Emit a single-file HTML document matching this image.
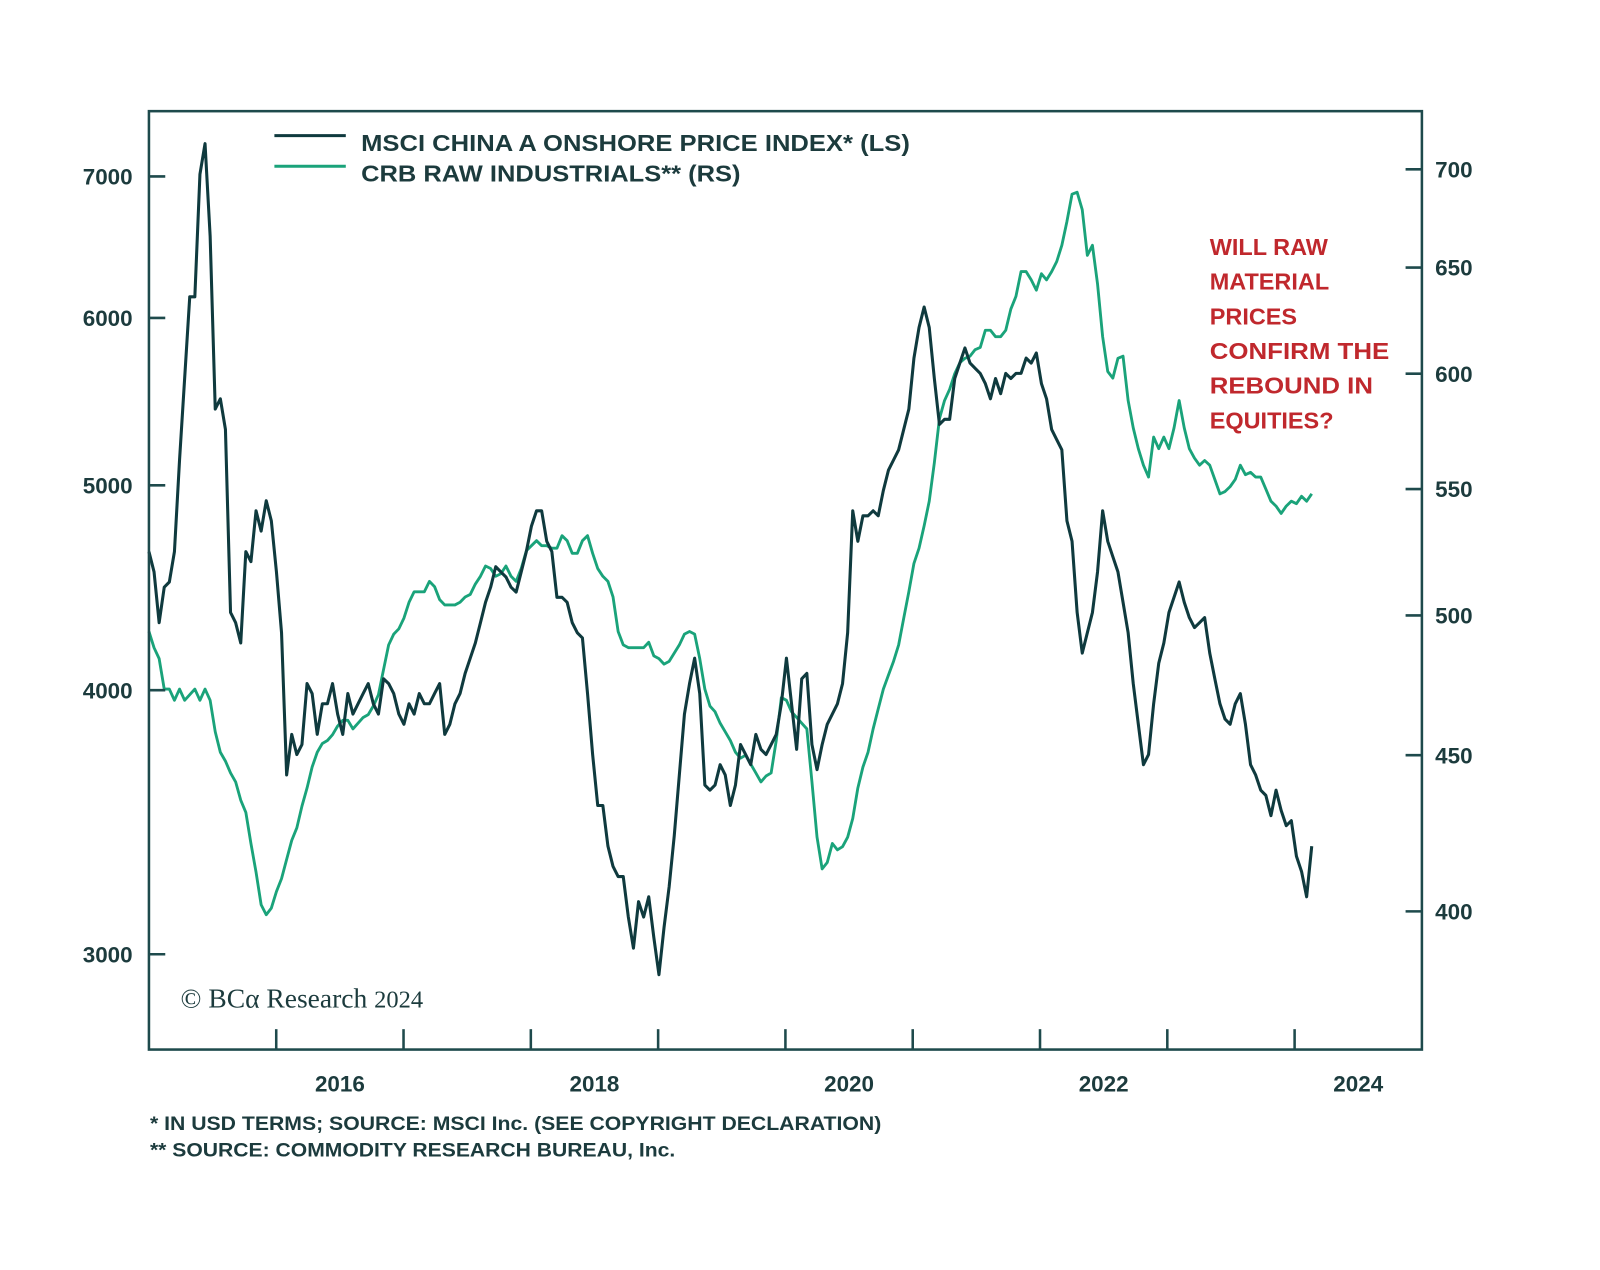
<!DOCTYPE html>
<html><head><meta charset="utf-8"><style>
html,body{margin:0;padding:0;background:#fff;}
svg{display:block;font-family:"Liberation Sans",sans-serif;}
</style></head><body>
<svg id="chart" width="1600" height="1270" viewBox="0 0 1600 1270">
<rect x="0" y="0" width="1600" height="1270" fill="#fff"/>
<g transform="translate(-1,1) scale(1.02)">
<g id="marks"></g>
<rect x="147" y="108" width="1248" height="920" fill="none" stroke="#1e4a4c" stroke-width="2.5"/>
<g id="axes"></g>
<g>
<line x1="270" y1="132" x2="340" y2="132" stroke="#0f3a3e" stroke-width="3"/>
<text x="355" y="147" font-size="23" font-weight="bold" fill="#1c3b3d" textLength="538" lengthAdjust="spacingAndGlyphs">MSCI CHINA A ONSHORE PRICE INDEX* (LS)</text>
<line x1="270" y1="162" x2="340" y2="162" stroke="#1aa37a" stroke-width="3"/>
<text x="355" y="177" font-size="23" font-weight="bold" fill="#1c3b3d" textLength="372" lengthAdjust="spacingAndGlyphs">CRB RAW INDUSTRIALS** (RS)</text>
</g>
<g font-size="23" font-weight="bold" fill="#c0282d">
<text x="1187" y="249">WILL RAW</text>
<text x="1187" y="283">MATERIAL</text>
<text x="1187" y="317">PRICES</text>
<text x="1187" y="351" textLength="176" lengthAdjust="spacingAndGlyphs">CONFIRM THE</text>
<text x="1187" y="385" textLength="160" lengthAdjust="spacingAndGlyphs">REBOUND IN</text>
<text x="1187" y="419">EQUITIES?</text>
</g>
<text x="178" y="987" font-family="'Liberation Serif',serif" font-size="27" fill="#1c3b3d">© BCα Research <tspan font-size="24">2024</tspan></text>
<text x="148" y="1107" font-size="19" font-weight="bold" fill="#1c3b3d" textLength="717" lengthAdjust="spacingAndGlyphs">* IN USD TERMS; SOURCE: MSCI Inc. (SEE COPYRIGHT DECLARATION)</text>
<text x="148" y="1133" font-size="19" font-weight="bold" fill="#1c3b3d" textLength="515" lengthAdjust="spacingAndGlyphs">** SOURCE: COMMODITY RESEARCH BUREAU, Inc.</text>
</g>
</svg>
<script>
const startYear = 2015.0;
const stepYears = 0.0400641;
const yearTicks = [2016,2017,2018,2019,2020,2021,2022,2023,2024];
const yearLabels = [2016,2018,2020,2022,2024];
const leftTicks = [3000,4000,5000,6000,7000];
const rightTicks = [400,450,500,550,600,650,700];
const msci = [4652,4550,4305,4475,4500,4652,5140,5617,6140,6140,7016,7255,6560,5433,5494,5314,4353,4305,4211,4652,4601,4863,4757,4917,4810,4550,4258,3647,3812,3729,3770,4029,3985,3812,3941,3941,4029,3897,3812,3985,3897,3941,3985,4029,3941,3897,4050,4029,3985,3897,3854,3941,3897,3985,3941,3941,3985,4029,3812,3854,3941,3985,4074,4142,4211,4305,4402,4475,4576,4550,4525,4475,4451,4550,4652,4783,4863,4863,4704,4652,4426,4426,4402,4305,4258,4234,3985,3729,3528,3528,3375,3301,3265,3265,3124,3020,3177,3124,3194,3055,2934,3089,3229,3413,3647,3897,4029,4142,3985,3607,3587,3607,3688,3647,3528,3607,3770,3729,3688,3812,3750,3729,3770,3812,3941,4142,3941,3750,4050,4074,3770,3668,3770,3854,3897,3941,4029,4258,4863,4704,4837,4837,4863,4837,4972,5083,5140,5197,5314,5433,5743,5938,6072,5938,5617,5343,5373,5373,5617,5712,5807,5712,5680,5648,5586,5494,5617,5525,5648,5617,5648,5648,5743,5712,5775,5586,5494,5314,5255,5197,4810,4704,4353,4165,4258,4353,4550,4863,4704,4626,4550,4402,4258,4029,3854,3688,3729,3941,4119,4211,4353,4426,4500,4402,4329,4282,4305,4329,4165,4050,3941,3876,3854,3941,3985,3854,3688,3647,3587,3567,3489,3587,3509,3451,3470,3338,3283,3194,3375];
const crb = [494,488,484,473,473,469,473,469,471,473,469,473,469,458,451,448,444,441,435,431,421,412,402,399,401,406,410,416,422,426,433,439,446,451,454,455,457,460,462,462,459,461,463,464,467,471,480,489,493,495,499,505,509,509,509,513,511,506,504,504,504,505,507,508,512,515,519,518,515,516,519,515,513,518,525,527,529,527,527,526,526,531,529,524,524,529,531,524,518,515,513,507,494,489,488,488,488,488,490,485,484,482,483,486,489,493,494,493,484,473,467,465,461,458,455,451,449,450,447,444,441,443,444,455,470,469,465,463,461,459,441,423,413,415,421,419,420,423,429,439,446,451,459,466,473,478,483,489,499,509,520,526,535,545,561,580,588,593,600,605,607,608,611,612,620,620,617,617,620,630,636,648,648,644,639,647,644,648,653,661,673,687,688,679,656,661,642,617,601,598,607,608,588,576,567,560,555,572,567,572,567,576,588,576,567,563,560,562,560,554,548,549,551,554,560,556,557,555,555,550,545,543,540,543,545,544,547,545,548];

const NS = "http://www.w3.org/2000/svg";
const X0 = 147, PXY = 124.8;
function xScale(t){ return X0 + (t - 2015) * PXY; }
function yLeft(v){ return 172 - 900 * Math.log(v / 7000); }
function yRight(v){ return 165 - 1300 * Math.log(v / 700); }
function mk(tag, attrs){ const e = document.createElementNS(NS, tag); for (const k in attrs) e.setAttribute(k, attrs[k]); return e; }

const marks = document.getElementById('marks');
const axes = document.getElementById('axes');

let d1 = crb.map((v,i)=>(i?'L':'M')+xScale(startYear+i*stepYears).toFixed(1)+','+yRight(v).toFixed(1)).join('');
const pc = mk('path',{d:d1,fill:'none',stroke:'#1aa37a','stroke-width':2.8,'stroke-linejoin':'round'});


marks.appendChild(pc);

let d2 = msci.map((v,i)=>(i?'L':'M')+xScale(startYear+i*stepYears).toFixed(1)+','+yLeft(v).toFixed(1)).join('');
const pm = mk('path',{d:d2,fill:'none',stroke:'#0f3a3e','stroke-width':3,'stroke-linejoin':'round'});


marks.appendChild(pm);

leftTicks.forEach(v=>{
  const y = yLeft(v);
  const l = mk('line',{x1:147,x2:163,y1:y,y2:y,stroke:'#1e4a4c','stroke-width':2.5});
  
  
  axes.appendChild(l);
  const t = mk('text',{x:131,y:y+8,'text-anchor':'end','font-size':22,'font-weight':'bold',fill:'#1c3b3d'});
  
  
  t.textContent = v; axes.appendChild(t);
});
rightTicks.forEach(v=>{
  const y = yRight(v);
  const l = mk('line',{x1:1379,x2:1395,y1:y,y2:y,stroke:'#1e4a4c','stroke-width':2.5});
  
  
  axes.appendChild(l);
  const t = mk('text',{x:1408,y:y+8,'font-size':22,'font-weight':'bold',fill:'#1c3b3d'});
  
  
  t.textContent = v; axes.appendChild(t);
});
yearTicks.forEach(yr=>{
  const x = xScale(yr);
  const l = mk('line',{x1:x,x2:x,y1:1008,y2:1028,stroke:'#1e4a4c','stroke-width':2.5});
  
  
  axes.appendChild(l);
});
yearLabels.forEach(yr=>{
  const t = mk('text',{x:xScale(yr+0.5),y:1069,'text-anchor':'middle','font-size':22,'font-weight':'bold',fill:'#1c3b3d'});
  
  
  t.textContent = yr; axes.appendChild(t);
});
</script>
</body></html>
